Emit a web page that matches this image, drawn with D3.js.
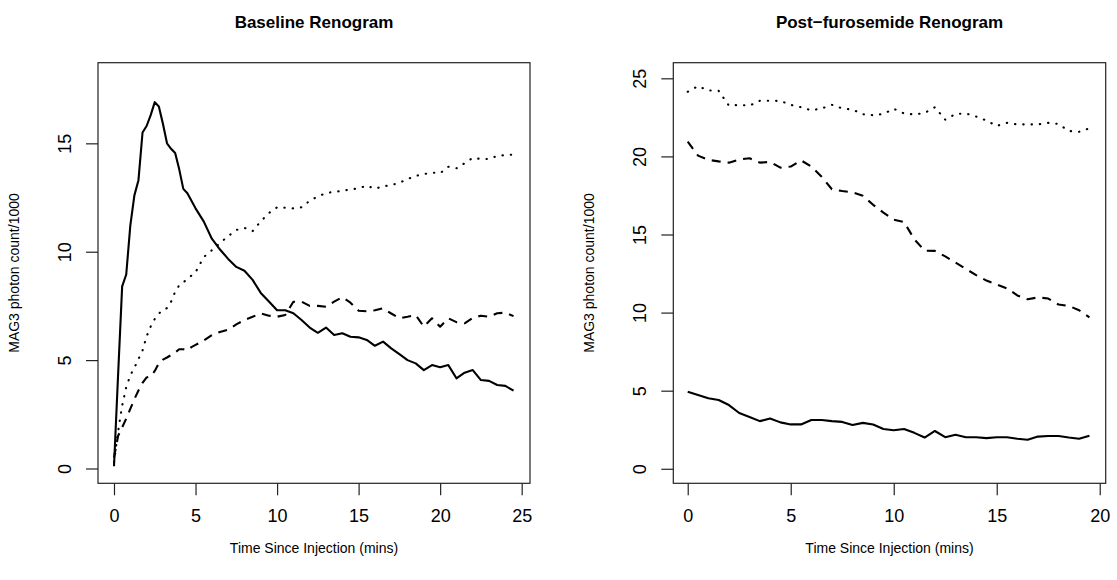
<!DOCTYPE html>
<html>
<head>
<meta charset="utf-8">
<script src="https://cdn.jsdelivr.net/npm/d3@7"></script>
<style>
  body { margin: 0; background: #fff; }
  svg text { font-family: "Liberation Sans", Arial, Helvetica, sans-serif; fill: #000; }
</style>
</head>
<body>
<div class="chart"></div>
<script>
var svgWidth = 1117;
var svgHeight = 580;

// Baseline renogram: times (mins) and three kidney curves
var baseTime = [0, 0.25, 0.5, 0.75, 1, 1.25, 1.5, 1.75, 2, 2.25, 2.5, 2.75, 3, 3.25, 3.5, 3.75,
  4, 4.25, 4.5, 4.75, 5, 5.5, 6, 6.5, 7, 7.5, 8, 8.5, 9, 9.5, 10, 10.5, 11, 11.5, 12, 12.5,
  13, 13.5, 14, 14.5, 15, 15.5, 16, 16.5, 17, 17.5, 18, 18.5, 19, 19.5, 20, 20.5, 21, 21.5,
  22, 22.5, 23, 23.5, 24, 24.5];
var baseSolid = [0.1, 4.3, 8.4, 8.95, 11.2, 12.6, 13.3, 15.5, 15.8, 16.3, 16.9, 16.7, 15.9, 15.0, 14.75, 14.55,
  13.8, 12.9, 12.7, 12.35, 12.0, 11.4, 10.6, 10.1, 9.67, 9.3, 9.12, 8.7, 8.1, 7.7, 7.3, 7.3, 7.16, 6.85, 6.5, 6.26,
  6.5, 6.16, 6.24, 6.08, 6.05, 5.93, 5.66, 5.85, 5.54, 5.28, 5.0, 4.85, 4.54, 4.77, 4.67, 4.77, 4.16, 4.42,
  4.54, 4.08, 4.04, 3.85, 3.81, 3.59];
var baseDashed = [0.5, 1.5, 1.9, 2.3, 2.75, 3.2, 3.6, 3.95, 4.2, 4.25, 4.5, 4.85, 5.02, 5.12, 5.23, 5.35,
  5.5, 5.5, 5.45, 5.6, 5.7, 5.9, 6.15, 6.3, 6.4, 6.65, 6.85, 7.0, 7.15, 7.05, 7.0, 7.08, 7.69, 7.7, 7.5, 7.5,
  7.46, 7.7, 7.9, 7.65, 7.28, 7.25, 7.3, 7.39, 7.15, 6.93, 7.0, 7.08, 6.54, 6.93, 6.54, 6.93, 6.75, 6.7,
  6.95, 7.05, 7.0, 7.16, 7.19, 7.03];
var baseDotted = [0.3, 1.7, 2.9, 3.75, 4.3, 4.65, 5.05, 5.45, 6.1, 6.55, 6.9, 7.15, 7.3, 7.4, 7.7, 8.15,
  8.45, 8.6, 8.72, 8.9, 9.05, 9.75, 10.07, 10.4, 10.72, 11.0, 11.1, 10.95, 11.4, 11.78, 12.05, 12.03, 12.0, 12.05, 12.35, 12.55,
  12.7, 12.77, 12.8, 12.88, 12.92, 13.05, 12.9, 13.02, 13.07, 13.18, 13.35, 13.5, 13.58, 13.65, 13.62, 13.92, 13.85, 14.08,
  14.33, 14.28, 14.28, 14.42, 14.46, 14.48];

// Post-furosemide renogram
var postTime = [0, 0.5, 1, 1.5, 2, 2.5, 3, 3.5, 4, 4.5, 5, 5.5, 6, 6.5, 7, 7.5, 8, 8.5, 9, 9.5,
  10, 10.5, 11, 11.5, 12, 12.5, 13, 13.5, 14, 14.5, 15, 15.5, 16, 16.5, 17, 17.5, 18, 18.5, 19, 19.5];
var postSolid = [4.93, 4.72, 4.51, 4.4, 4.08, 3.57, 3.32, 3.05, 3.22, 2.97, 2.84, 2.84, 3.12, 3.12, 3.05, 3.0, 2.8, 2.94, 2.84, 2.55,
  2.47, 2.55, 2.3, 2.0, 2.42, 2.02, 2.18, 2.02, 2.02, 1.96, 2.02, 2.02, 1.92, 1.86, 2.06, 2.1, 2.1, 2.0, 1.92, 2.12];
var postDashed = [20.95, 20.05, 19.78, 19.68, 19.6, 19.8, 19.88, 19.6, 19.65, 19.28, 19.35, 19.75, 19.35, 18.7, 17.9, 17.78, 17.7, 17.48, 16.9, 16.4,
  15.95, 15.8, 14.7, 13.96, 13.95, 13.6, 13.2, 12.8, 12.4, 12.05, 11.8, 11.55, 11.1, 10.85, 10.97, 10.9, 10.52, 10.43, 10.15, 9.69];
var postDotted = [24.14, 24.5, 24.22, 24.2, 23.25, 23.3, 23.25, 23.56, 23.57, 23.55, 23.3, 23.15, 22.95, 23.07, 23.3, 23.07, 23.0, 22.7, 22.64, 22.72,
  23.05, 22.75, 22.69, 22.78, 23.15, 22.35, 22.72, 22.75, 22.55, 22.3, 21.95, 22.15, 22.05, 22.05, 22.05, 22.15, 22.08, 21.63, 21.58, 21.8];

var baseXTicks = [0, 5, 10, 15, 20, 25];
var baseYTicks = [0, 5, 10, 15];
var postXTicks = [0, 5, 10, 15, 20];
var postYTicks = [0, 5, 10, 15, 20, 25];

var lineStyles = { solid: null, dashed: "9,7", dotted: "0.4,7.9" };

var svg = d3.select(".chart")
  .append("svg")
  .attr("width", svgWidth)
  .attr("height", svgHeight);

function drawPanel(p) {
  var x = d3.scaleLinear().domain(p.xDomain).range([p.left, p.right]);
  var y = d3.scaleLinear().domain(p.yDomain).range([p.bottom, p.top]);
  var g = svg.append("g");

  var line = d3.line()
    .x(function(d) { return x(d[0]); })
    .y(function(d) { return y(d[1]); });

  p.series.forEach(function(s) {
    g.append("path")
      .datum(d3.zip(p.time, s.values))
      .attr("d", line)
      .attr("fill", "none")
      .attr("stroke", "#000")
      .attr("stroke-width", 2.1)
      .attr("stroke-linejoin", "round")
      .attr("stroke-linecap", s.style === "dotted" ? "round" : "butt")
      .attr("stroke-dasharray", lineStyles[s.style]);
  });

  // box
  g.append("rect")
    .attr("x", p.left).attr("y", p.top)
    .attr("width", p.right - p.left).attr("height", p.bottom - p.top)
    .attr("fill", "none").attr("stroke", "#222").attr("stroke-width", 1.2);

  var bottomAxis = d3.axisBottom(x).tickValues(p.xTicks).tickSize(12).tickSizeOuter(0);
  var xg = g.append("g")
    .attr("transform", "translate(0," + p.bottom + ")")
    .call(bottomAxis);
  xg.select(".domain").remove();
  xg.selectAll("line").attr("stroke", "#222").attr("stroke-width", 1.2);
  xg.selectAll("text").attr("y", 26).attr("dy", "0.71em").attr("font-size", 18);

  var leftAxis = d3.axisLeft(y).tickValues(p.yTicks).tickSize(12).tickSizeOuter(0);
  var yg = g.append("g")
    .attr("transform", "translate(" + p.left + ",0)")
    .call(leftAxis);
  yg.select(".domain").remove();
  yg.selectAll("line").attr("stroke", "#222").attr("stroke-width", 1.2);
  yg.selectAll("text")
    .attr("x", 0).attr("y", 0).attr("dy", null)
    .attr("text-anchor", "middle")
    .attr("dominant-baseline", "central")
    .attr("font-size", 18)
    .attr("transform", "translate(-33,0) rotate(-90)");
  g.selectAll(".tick text").attr("fill", "#000");

  g.append("text")
    .attr("x", (p.left + p.right) / 2)
    .attr("y", 28)
    .attr("text-anchor", "middle")
    .attr("font-size", 17)
    .attr("font-weight", "bold")
    .text(p.title);

  g.append("text")
    .attr("x", (p.left + p.right) / 2)
    .attr("y", 553)
    .attr("text-anchor", "middle")
    .attr("font-size", 14)
    .text("Time Since Injection (mins)");

  g.append("text")
    .attr("transform", "translate(" + (p.left - 79) + "," + ((p.top + p.bottom) / 2) + ") rotate(-90)")
    .attr("text-anchor", "middle")
    .attr("font-size", 14)
    .text("MAG3 photon count/1000");
}

drawPanel({
  title: "Baseline Renogram",
  left: 98, right: 530, top: 62.7, bottom: 483.3,
  xDomain: [-0.981, 25.51], yDomain: [-0.683, 18.72],
  xTicks: baseXTicks, yTicks: baseYTicks,
  time: baseTime,
  series: [
    { values: baseSolid, style: "solid" },
    { values: baseDashed, style: "dashed" },
    { values: baseDotted, style: "dotted" }
  ]
});

drawPanel({
  title: "Post\u2212furosemide Renogram",
  left: 673.3, right: 1105.7, top: 62.7, bottom: 483.3,
  xDomain: [-0.70, 20.29], yDomain: [-0.93, 26.0],
  xTicks: postXTicks, yTicks: postYTicks,
  time: postTime,
  series: [
    { values: postSolid, style: "solid" },
    { values: postDashed, style: "dashed" },
    { values: postDotted, style: "dotted" }
  ]
});
</script>
</body>
</html>
